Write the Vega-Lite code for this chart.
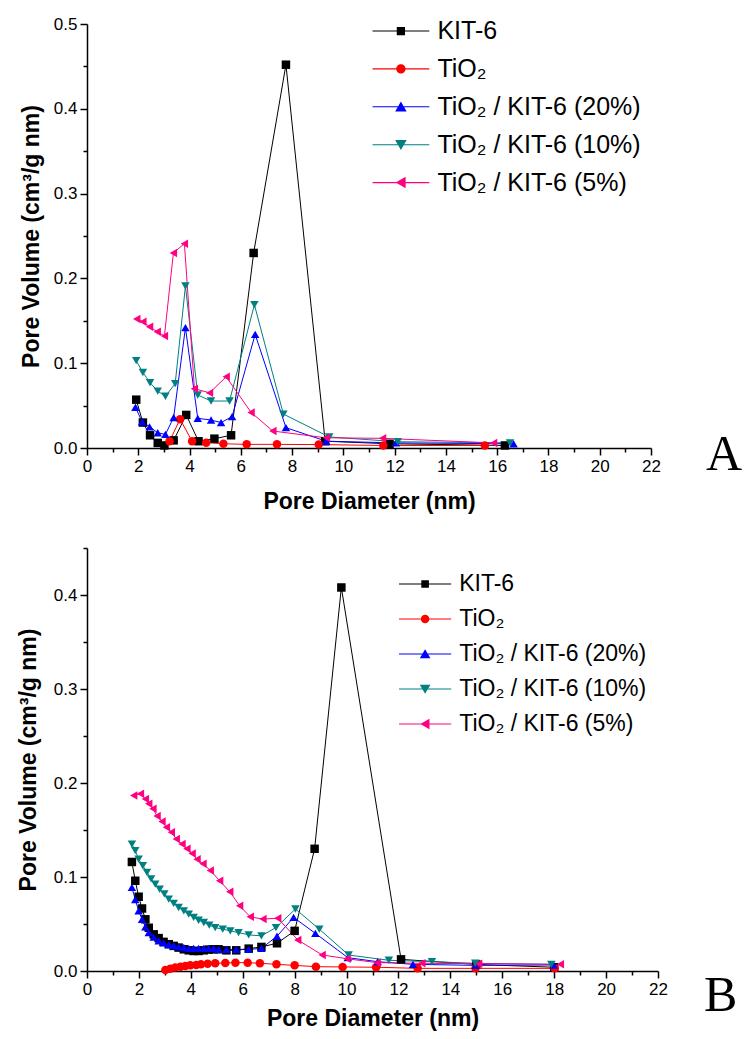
{
  "$schema": "https://vega.github.io/schema/vega-lite/v6.json",
  "background": "white",
  "padding": {"left": 17, "top": 15, "right": 0, "bottom": 5},
  "spacing": 26,
  "config": {
    "view": {"stroke": null},
    "font": "Liberation Sans",
    "axis": {
      "grid": false,
      "domainColor": "black",
      "domainWidth": 1.5,
      "tickColor": "black",
      "tickWidth": 1.5,
      "labelColor": "black",
      "labelFont": "Liberation Sans",
      "labelFontSize": 17,
      "labelPadding": 3,
      "labelOverlap": false,
      "labelFlush": false,
      "titleFont": "Liberation Sans",
      "titleFontSize": 23,
      "titleFontWeight": "bold",
      "titleColor": "black"
    },
    "legend": {
      "title": null,
      "orient": "none",
      "padding": 0,
      "labelFont": "Liberation Sans",
      "labelColor": "black",
      "labelLimit": 400,
      "symbolOpacity": 1,
      "symbolStrokeWidth": 1.5
    }
  },
  "datasets": {
    "a": [
      {"s": "KIT-6", "d": 1.92, "v": 0.057},
      {"s": "KIT-6", "d": 2.18, "v": 0.030},
      {"s": "KIT-6", "d": 2.46, "v": 0.015},
      {"s": "KIT-6", "d": 2.76, "v": 0.006},
      {"s": "KIT-6", "d": 3.02, "v": 0.003},
      {"s": "KIT-6", "d": 3.38, "v": 0.009},
      {"s": "KIT-6", "d": 3.87, "v": 0.039},
      {"s": "KIT-6", "d": 4.35, "v": 0.008},
      {"s": "KIT-6", "d": 4.97, "v": 0.011},
      {"s": "KIT-6", "d": 5.62, "v": 0.015},
      {"s": "KIT-6", "d": 6.50, "v": 0.230},
      {"s": "KIT-6", "d": 7.76, "v": 0.452},
      {"s": "KIT-6", "d": 9.29, "v": 0.008},
      {"s": "KIT-6", "d": 11.8, "v": 0.005},
      {"s": "KIT-6", "d": 16.3, "v": 0.003},
      {"s": "TiO₂", "d": 3.22, "v": 0.008},
      {"s": "TiO₂", "d": 3.63, "v": 0.034},
      {"s": "TiO₂", "d": 4.10, "v": 0.008},
      {"s": "TiO₂", "d": 4.65, "v": 0.0063},
      {"s": "TiO₂", "d": 5.32, "v": 0.005},
      {"s": "TiO₂", "d": 6.23, "v": 0.0043},
      {"s": "TiO₂", "d": 7.41, "v": 0.0043},
      {"s": "TiO₂", "d": 9.04, "v": 0.004},
      {"s": "TiO₂", "d": 11.56, "v": 0.003},
      {"s": "TiO₂", "d": 15.52, "v": 0.003},
      {"s": "TiO₂ / KIT-6 (20%)", "d": 1.89, "v": 0.048},
      {"s": "TiO₂ / KIT-6 (20%)", "d": 2.15, "v": 0.031},
      {"s": "TiO₂ / KIT-6 (20%)", "d": 2.44, "v": 0.025},
      {"s": "TiO₂ / KIT-6 (20%)", "d": 2.76, "v": 0.018},
      {"s": "TiO₂ / KIT-6 (20%)", "d": 3.06, "v": 0.016},
      {"s": "TiO₂ / KIT-6 (20%)", "d": 3.38, "v": 0.036},
      {"s": "TiO₂ / KIT-6 (20%)", "d": 3.84, "v": 0.142},
      {"s": "TiO₂ / KIT-6 (20%)", "d": 4.32, "v": 0.035},
      {"s": "TiO₂ / KIT-6 (20%)", "d": 4.84, "v": 0.033},
      {"s": "TiO₂ / KIT-6 (20%)", "d": 5.23, "v": 0.030},
      {"s": "TiO₂ / KIT-6 (20%)", "d": 5.66, "v": 0.037},
      {"s": "TiO₂ / KIT-6 (20%)", "d": 6.56, "v": 0.134},
      {"s": "TiO₂ / KIT-6 (20%)", "d": 7.76, "v": 0.024},
      {"s": "TiO₂ / KIT-6 (20%)", "d": 9.33, "v": 0.008},
      {"s": "TiO₂ / KIT-6 (20%)", "d": 12.05, "v": 0.006},
      {"s": "TiO₂ / KIT-6 (20%)", "d": 16.64, "v": 0.005},
      {"s": "TiO₂ / KIT-6 (10%)", "d": 1.92, "v": 0.103},
      {"s": "TiO₂ / KIT-6 (10%)", "d": 2.18, "v": 0.089},
      {"s": "TiO₂ / KIT-6 (10%)", "d": 2.46, "v": 0.077},
      {"s": "TiO₂ / KIT-6 (10%)", "d": 2.76, "v": 0.067},
      {"s": "TiO₂ / KIT-6 (10%)", "d": 3.06, "v": 0.061},
      {"s": "TiO₂ / KIT-6 (10%)", "d": 3.44, "v": 0.076},
      {"s": "TiO₂ / KIT-6 (10%)", "d": 3.84, "v": 0.191},
      {"s": "TiO₂ / KIT-6 (10%)", "d": 4.32, "v": 0.0625},
      {"s": "TiO₂ / KIT-6 (10%)", "d": 4.84, "v": 0.0554},
      {"s": "TiO₂ / KIT-6 (10%)", "d": 5.56, "v": 0.0554},
      {"s": "TiO₂ / KIT-6 (10%)", "d": 6.53, "v": 0.169},
      {"s": "TiO₂ / KIT-6 (10%)", "d": 7.66, "v": 0.040},
      {"s": "TiO₂ / KIT-6 (10%)", "d": 9.45, "v": 0.013},
      {"s": "TiO₂ / KIT-6 (10%)", "d": 12.12, "v": 0.0074},
      {"s": "TiO₂ / KIT-6 (10%)", "d": 16.5, "v": 0.006},
      {"s": "TiO₂ / KIT-6 (5%)", "d": 1.94, "v": 0.152},
      {"s": "TiO₂ / KIT-6 (5%)", "d": 2.18, "v": 0.149},
      {"s": "TiO₂ / KIT-6 (5%)", "d": 2.44, "v": 0.143},
      {"s": "TiO₂ / KIT-6 (5%)", "d": 2.74, "v": 0.137},
      {"s": "TiO₂ / KIT-6 (5%)", "d": 3.02, "v": 0.132},
      {"s": "TiO₂ / KIT-6 (5%)", "d": 3.37, "v": 0.230},
      {"s": "TiO₂ / KIT-6 (5%)", "d": 3.80, "v": 0.241},
      {"s": "TiO₂ / KIT-6 (5%)", "d": 4.19, "v": 0.070},
      {"s": "TiO₂ / KIT-6 (5%)", "d": 4.78, "v": 0.065},
      {"s": "TiO₂ / KIT-6 (5%)", "d": 5.43, "v": 0.084},
      {"s": "TiO₂ / KIT-6 (5%)", "d": 6.40, "v": 0.042},
      {"s": "TiO₂ / KIT-6 (5%)", "d": 7.25, "v": 0.020},
      {"s": "TiO₂ / KIT-6 (5%)", "d": 9.33, "v": 0.012},
      {"s": "TiO₂ / KIT-6 (5%)", "d": 11.53, "v": 0.0114},
      {"s": "TiO₂ / KIT-6 (5%)", "d": 15.86, "v": 0.006}
    ],
    "b": [
      {"s": "KIT-6", "d": 1.73, "v": 0.116},
      {"s": "KIT-6", "d": 1.86, "v": 0.096},
      {"s": "KIT-6", "d": 1.99, "v": 0.079},
      {"s": "KIT-6", "d": 2.12, "v": 0.0665},
      {"s": "KIT-6", "d": 2.25, "v": 0.055},
      {"s": "KIT-6", "d": 2.38, "v": 0.046},
      {"s": "KIT-6", "d": 2.57, "v": 0.039},
      {"s": "KIT-6", "d": 2.76, "v": 0.035},
      {"s": "KIT-6", "d": 2.95, "v": 0.031},
      {"s": "KIT-6", "d": 3.15, "v": 0.0285},
      {"s": "KIT-6", "d": 3.34, "v": 0.0267},
      {"s": "KIT-6", "d": 3.53, "v": 0.0249},
      {"s": "KIT-6", "d": 3.73, "v": 0.0231},
      {"s": "KIT-6", "d": 3.92, "v": 0.022},
      {"s": "KIT-6", "d": 4.11, "v": 0.0213},
      {"s": "KIT-6", "d": 4.30, "v": 0.0213},
      {"s": "KIT-6", "d": 4.50, "v": 0.022},
      {"s": "KIT-6", "d": 4.69, "v": 0.0228},
      {"s": "KIT-6", "d": 4.88, "v": 0.0231},
      {"s": "KIT-6", "d": 5.07, "v": 0.0231},
      {"s": "KIT-6", "d": 5.37, "v": 0.022},
      {"s": "KIT-6", "d": 5.75, "v": 0.022},
      {"s": "KIT-6", "d": 6.23, "v": 0.0238},
      {"s": "KIT-6", "d": 6.72, "v": 0.0256},
      {"s": "KIT-6", "d": 7.32, "v": 0.0295},
      {"s": "KIT-6", "d": 8.0, "v": 0.0427},
      {"s": "KIT-6", "d": 8.77, "v": 0.130},
      {"s": "KIT-6", "d": 9.80, "v": 0.408},
      {"s": "KIT-6", "d": 12.1, "v": 0.0124},
      {"s": "KIT-6", "d": 15.0, "v": 0.007},
      {"s": "KIT-6", "d": 18.0, "v": 0.004},
      {"s": "TiO₂", "d": 3.02, "v": 0.0011},
      {"s": "TiO₂", "d": 3.21, "v": 0.0025},
      {"s": "TiO₂", "d": 3.40, "v": 0.0036},
      {"s": "TiO₂", "d": 3.60, "v": 0.0046},
      {"s": "TiO₂", "d": 3.79, "v": 0.0053},
      {"s": "TiO₂", "d": 3.98, "v": 0.006},
      {"s": "TiO₂", "d": 4.21, "v": 0.0064},
      {"s": "TiO₂", "d": 4.39, "v": 0.0071},
      {"s": "TiO₂", "d": 4.65, "v": 0.0078},
      {"s": "TiO₂", "d": 4.94, "v": 0.0082},
      {"s": "TiO₂", "d": 5.33, "v": 0.0085},
      {"s": "TiO₂", "d": 5.72, "v": 0.0089},
      {"s": "TiO₂", "d": 6.19, "v": 0.0089},
      {"s": "TiO₂", "d": 6.66, "v": 0.0082},
      {"s": "TiO₂", "d": 7.30, "v": 0.0071},
      {"s": "TiO₂", "d": 8.00, "v": 0.006},
      {"s": "TiO₂", "d": 8.82, "v": 0.0046},
      {"s": "TiO₂", "d": 9.85, "v": 0.0043},
      {"s": "TiO₂", "d": 11.14, "v": 0.004},
      {"s": "TiO₂", "d": 12.74, "v": 0.0028},
      {"s": "TiO₂", "d": 14.97, "v": 0.0028},
      {"s": "TiO₂", "d": 18.02, "v": 0.0028},
      {"s": "TiO₂ / KIT-6 (20%)", "d": 1.73, "v": 0.089},
      {"s": "TiO₂ / KIT-6 (20%)", "d": 1.86, "v": 0.076},
      {"s": "TiO₂ / KIT-6 (20%)", "d": 1.99, "v": 0.064},
      {"s": "TiO₂ / KIT-6 (20%)", "d": 2.12, "v": 0.055},
      {"s": "TiO₂ / KIT-6 (20%)", "d": 2.25, "v": 0.047},
      {"s": "TiO₂ / KIT-6 (20%)", "d": 2.38, "v": 0.041},
      {"s": "TiO₂ / KIT-6 (20%)", "d": 2.57, "v": 0.036},
      {"s": "TiO₂ / KIT-6 (20%)", "d": 2.76, "v": 0.032},
      {"s": "TiO₂ / KIT-6 (20%)", "d": 2.95, "v": 0.030},
      {"s": "TiO₂ / KIT-6 (20%)", "d": 3.15, "v": 0.028},
      {"s": "TiO₂ / KIT-6 (20%)", "d": 3.34, "v": 0.027},
      {"s": "TiO₂ / KIT-6 (20%)", "d": 3.53, "v": 0.026},
      {"s": "TiO₂ / KIT-6 (20%)", "d": 3.73, "v": 0.025},
      {"s": "TiO₂ / KIT-6 (20%)", "d": 3.92, "v": 0.024},
      {"s": "TiO₂ / KIT-6 (20%)", "d": 4.11, "v": 0.024},
      {"s": "TiO₂ / KIT-6 (20%)", "d": 4.30, "v": 0.024},
      {"s": "TiO₂ / KIT-6 (20%)", "d": 4.50, "v": 0.024},
      {"s": "TiO₂ / KIT-6 (20%)", "d": 4.69, "v": 0.024},
      {"s": "TiO₂ / KIT-6 (20%)", "d": 4.88, "v": 0.024},
      {"s": "TiO₂ / KIT-6 (20%)", "d": 5.07, "v": 0.023},
      {"s": "TiO₂ / KIT-6 (20%)", "d": 5.37, "v": 0.023},
      {"s": "TiO₂ / KIT-6 (20%)", "d": 5.75, "v": 0.023},
      {"s": "TiO₂ / KIT-6 (20%)", "d": 6.23, "v": 0.023},
      {"s": "TiO₂ / KIT-6 (20%)", "d": 6.72, "v": 0.024},
      {"s": "TiO₂ / KIT-6 (20%)", "d": 7.32, "v": 0.037},
      {"s": "TiO₂ / KIT-6 (20%)", "d": 7.96, "v": 0.057},
      {"s": "TiO₂ / KIT-6 (20%)", "d": 8.80, "v": 0.040},
      {"s": "TiO₂ / KIT-6 (20%)", "d": 10.05, "v": 0.0142},
      {"s": "TiO₂ / KIT-6 (20%)", "d": 11.2, "v": 0.0099},
      {"s": "TiO₂ / KIT-6 (20%)", "d": 12.56, "v": 0.0071},
      {"s": "TiO₂ / KIT-6 (20%)", "d": 14.97, "v": 0.006},
      {"s": "TiO₂ / KIT-6 (20%)", "d": 17.98, "v": 0.0064},
      {"s": "TiO₂ / KIT-6 (10%)", "d": 1.73, "v": 0.135},
      {"s": "TiO₂ / KIT-6 (10%)", "d": 1.86, "v": 0.128},
      {"s": "TiO₂ / KIT-6 (10%)", "d": 1.99, "v": 0.119},
      {"s": "TiO₂ / KIT-6 (10%)", "d": 2.15, "v": 0.112},
      {"s": "TiO₂ / KIT-6 (10%)", "d": 2.31, "v": 0.105},
      {"s": "TiO₂ / KIT-6 (10%)", "d": 2.47, "v": 0.098},
      {"s": "TiO₂ / KIT-6 (10%)", "d": 2.63, "v": 0.0925},
      {"s": "TiO₂ / KIT-6 (10%)", "d": 2.80, "v": 0.087},
      {"s": "TiO₂ / KIT-6 (10%)", "d": 2.98, "v": 0.082},
      {"s": "TiO₂ / KIT-6 (10%)", "d": 3.15, "v": 0.0765},
      {"s": "TiO₂ / KIT-6 (10%)", "d": 3.34, "v": 0.072},
      {"s": "TiO₂ / KIT-6 (10%)", "d": 3.53, "v": 0.0676},
      {"s": "TiO₂ / KIT-6 (10%)", "d": 3.73, "v": 0.064},
      {"s": "TiO₂ / KIT-6 (10%)", "d": 3.92, "v": 0.0605},
      {"s": "TiO₂ / KIT-6 (10%)", "d": 4.11, "v": 0.057},
      {"s": "TiO₂ / KIT-6 (10%)", "d": 4.30, "v": 0.054},
      {"s": "TiO₂ / KIT-6 (10%)", "d": 4.50, "v": 0.0516},
      {"s": "TiO₂ / KIT-6 (10%)", "d": 4.71, "v": 0.0488},
      {"s": "TiO₂ / KIT-6 (10%)", "d": 4.94, "v": 0.0462},
      {"s": "TiO₂ / KIT-6 (10%)", "d": 5.23, "v": 0.0445},
      {"s": "TiO₂ / KIT-6 (10%)", "d": 5.52, "v": 0.0427},
      {"s": "TiO₂ / KIT-6 (10%)", "d": 5.84, "v": 0.0409},
      {"s": "TiO₂ / KIT-6 (10%)", "d": 6.23, "v": 0.0384},
      {"s": "TiO₂ / KIT-6 (10%)", "d": 6.72, "v": 0.0374},
      {"s": "TiO₂ / KIT-6 (10%)", "d": 7.28, "v": 0.0462},
      {"s": "TiO₂ / KIT-6 (10%)", "d": 8.03, "v": 0.066},
      {"s": "TiO₂ / KIT-6 (10%)", "d": 8.95, "v": 0.0445},
      {"s": "TiO₂ / KIT-6 (10%)", "d": 10.08, "v": 0.017},
      {"s": "TiO₂ / KIT-6 (10%)", "d": 11.63, "v": 0.0114},
      {"s": "TiO₂ / KIT-6 (10%)", "d": 13.29, "v": 0.0099},
      {"s": "TiO₂ / KIT-6 (10%)", "d": 14.96, "v": 0.0082},
      {"s": "TiO₂ / KIT-6 (10%)", "d": 17.89, "v": 0.0071},
      {"s": "TiO₂ / KIT-6 (5%)", "d": 1.80, "v": 0.1868},
      {"s": "TiO₂ / KIT-6 (5%)", "d": 2.06, "v": 0.1886},
      {"s": "TiO₂ / KIT-6 (5%)", "d": 2.25, "v": 0.183},
      {"s": "TiO₂ / KIT-6 (5%)", "d": 2.38, "v": 0.178},
      {"s": "TiO₂ / KIT-6 (5%)", "d": 2.54, "v": 0.1725},
      {"s": "TiO₂ / KIT-6 (5%)", "d": 2.70, "v": 0.165},
      {"s": "TiO₂ / KIT-6 (5%)", "d": 2.89, "v": 0.159},
      {"s": "TiO₂ / KIT-6 (5%)", "d": 3.06, "v": 0.153},
      {"s": "TiO₂ / KIT-6 (5%)", "d": 3.25, "v": 0.1476},
      {"s": "TiO₂ / KIT-6 (5%)", "d": 3.44, "v": 0.1405},
      {"s": "TiO₂ / KIT-6 (5%)", "d": 3.66, "v": 0.135},
      {"s": "TiO₂ / KIT-6 (5%)", "d": 3.85, "v": 0.130},
      {"s": "TiO₂ / KIT-6 (5%)", "d": 4.05, "v": 0.125},
      {"s": "TiO₂ / KIT-6 (5%)", "d": 4.24, "v": 0.119},
      {"s": "TiO₂ / KIT-6 (5%)", "d": 4.47, "v": 0.114},
      {"s": "TiO₂ / KIT-6 (5%)", "d": 4.75, "v": 0.107},
      {"s": "TiO₂ / KIT-6 (5%)", "d": 5.11, "v": 0.096},
      {"s": "TiO₂ / KIT-6 (5%)", "d": 5.50, "v": 0.0843},
      {"s": "TiO₂ / KIT-6 (5%)", "d": 5.88, "v": 0.0694},
      {"s": "TiO₂ / KIT-6 (5%)", "d": 6.29, "v": 0.0576},
      {"s": "TiO₂ / KIT-6 (5%)", "d": 6.78, "v": 0.0552},
      {"s": "TiO₂ / KIT-6 (5%)", "d": 7.35, "v": 0.0562},
      {"s": "TiO₂ / KIT-6 (5%)", "d": 8.12, "v": 0.0331},
      {"s": "TiO₂ / KIT-6 (5%)", "d": 9.06, "v": 0.0171},
      {"s": "TiO₂ / KIT-6 (5%)", "d": 10.02, "v": 0.013},
      {"s": "TiO₂ / KIT-6 (5%)", "d": 11.18, "v": 0.0089},
      {"s": "TiO₂ / KIT-6 (5%)", "d": 12.9, "v": 0.0082},
      {"s": "TiO₂ / KIT-6 (5%)", "d": 15.09, "v": 0.0078},
      {"s": "TiO₂ / KIT-6 (5%)", "d": 18.24, "v": 0.0071}
    ]
  },
  "vconcat": [
    {
      "width": 564,
      "height": 424,
      "data": {"name": "a"},
      "title": {"text": "A", "orient": "bottom", "anchor": "end", "frame": "group", "align": "left", "baseline": "alphabetic",
        "font": "Liberation Serif", "fontSize": 50, "fontWeight": "normal", "color": "black", "dx": 55, "dy": -43, "offset": 0},
      "encoding": {
        "x": {
          "field": "d", "type": "quantitative",
          "scale": {"domain": [0, 22], "nice": false},
          "axis": {
            "title": "Pore Diameter (nm)",
            "values": [0,1,2,3,4,5,6,7,8,9,10,11,12,13,14,15,16,17,18,19,20,21,22],
            "labelExpr": "datum.value % 2 === 0 ? datum.label : ''",
            "tickSize": {"condition": {"test": "datum.value % 2 === 0", "value": 7}, "value": 4},
            "titlePadding": 16
          }
        },
        "y": {
          "field": "v", "type": "quantitative",
          "scale": {"domain": [0, 0.5], "nice": false},
          "axis": {
            "title": "Pore Volume (cm³/g nm)",
            "values": [0,0.05,0.1,0.15,0.2,0.25,0.3,0.35,0.4,0.45,0.5],
            "labelExpr": "round(datum.value*20) % 2 === 0 ? format(datum.value, '.1f') : ''",
            "tickSize": {"condition": {"test": "round(datum.value*20) % 2 === 0", "value": 7}, "value": 4},
            "titlePadding": 10
          }
        }
      },
      "layer": [
        {
          "mark": {"type": "line", "strokeWidth": 1},
          "encoding": {
            "color": {"field": "s", "type": "nominal", "legend": null,
              "scale": {"domain": ["KIT-6", "TiO₂", "TiO₂ / KIT-6 (20%)", "TiO₂ / KIT-6 (10%)", "TiO₂ / KIT-6 (5%)"],
                        "range": ["#000000", "#FF0000", "#0000FF", "#008080", "#FF0080"]}}
          }
        },
        {
          "mark": {"type": "point", "filled": true, "opacity": 1},
          "encoding": {
            "color": {"field": "s", "type": "nominal", "legend": null,
              "scale": {"domain": ["KIT-6", "TiO₂", "TiO₂ / KIT-6 (20%)", "TiO₂ / KIT-6 (10%)", "TiO₂ / KIT-6 (5%)"],
                        "range": ["#000000", "#FF0000", "#0000FF", "#008080", "#FF0080"]}},
            "shape": {"field": "s", "type": "nominal", "legend": null,
              "scale": {"domain": ["KIT-6", "TiO₂", "TiO₂ / KIT-6 (20%)", "TiO₂ / KIT-6 (10%)", "TiO₂ / KIT-6 (5%)"],
                        "range": ["square", "circle", "triangle-up", "triangle-down", "triangle-left"]}},
            "size": {"field": "s", "type": "nominal", "legend": null,
              "scale": {"domain": ["KIT-6", "TiO₂", "TiO₂ / KIT-6 (20%)", "TiO₂ / KIT-6 (10%)", "TiO₂ / KIT-6 (5%)"],
                        "range": [72, 72, 130, 130, 130]}}
          }
        },
        {
          "mark": {"type": "point", "filled": true, "opacity": 0},
          "encoding": {
            "color": {"field": "s", "type": "nominal",
              "scale": {"domain": ["KIT-6", "TiO₂", "TiO₂ / KIT-6 (20%)", "TiO₂ / KIT-6 (10%)", "TiO₂ / KIT-6 (5%)"],
                        "range": ["#000000", "#FF0000", "#0000FF", "#008080", "#FF0080"]},
              "legend": {"legendX": 300.4, "legendY": -6.5, "labelFontSize": 25,
                "symbolSize": 625, "symbolOpacity": 1, "rowPadding": 10.9, "labelOffset": 23}},
            "shape": {"field": "s", "type": "nominal",
              "scale": {"domain": ["KIT-6", "TiO₂", "TiO₂ / KIT-6 (20%)", "TiO₂ / KIT-6 (10%)", "TiO₂ / KIT-6 (5%)"],
                        "range": [
                          "M-2.27,-0.045H2.27V0.045H-2.27Z M-0.33,-0.33H0.33V0.33H-0.33Z",
                          "M-2.27,-0.045H2.27V0.045H-2.27Z M0.37,0A0.37,0.37,0,1,1,-0.37,0A0.37,0.37,0,1,1,0.37,0Z",
                          "M-2.27,-0.045H2.27V0.045H-2.27Z M0,-0.42L0.46,0.38L-0.46,0.38Z",
                          "M-2.27,-0.045H2.27V0.045H-2.27Z M-0.46,-0.38L0.46,-0.38L0,0.42Z",
                          "M-2.27,-0.045H2.27V0.045H-2.27Z M-0.42,0L0.38,-0.46L0.38,0.46Z"
                        ]},
              "legend": {"legendX": 300.4, "legendY": -6.5, "labelFontSize": 25,
                "symbolSize": 625, "symbolOpacity": 1, "rowPadding": 10.9, "labelOffset": 23}}
          }
        }
      ],
      "resolve": {"scale": {"color": "independent", "shape": "independent", "size": "independent"}}
    },
    {
      "width": 571,
      "height": 423,
      "data": {"name": "b"},
      "title": {"text": "B", "orient": "bottom", "anchor": "end", "frame": "group", "align": "left", "baseline": "alphabetic",
        "font": "Liberation Serif", "fontSize": 50, "fontWeight": "normal", "color": "black", "dx": 46, "dy": -19, "offset": 0},
      "encoding": {
        "x": {
          "field": "d", "type": "quantitative",
          "scale": {"domain": [0, 22], "nice": false},
          "axis": {
            "title": "Pore Diameter (nm)",
            "values": [0,1,2,3,4,5,6,7,8,9,10,11,12,13,14,15,16,17,18,19,20,21,22],
            "labelExpr": "datum.value % 2 === 0 ? datum.label : ''",
            "tickSize": {"condition": {"test": "datum.value % 2 === 0", "value": 7}, "value": 4},
            "titlePadding": 10
          }
        },
        "y": {
          "field": "v", "type": "quantitative",
          "scale": {"domain": [0, 0.45], "nice": false},
          "axis": {
            "title": "Pore Volume (cm³/g nm)",
            "values": [0,0.05,0.1,0.15,0.2,0.25,0.3,0.35,0.4,0.45],
            "labelExpr": "round(datum.value*20) % 2 === 0 ? format(datum.value, '.1f') : ''",
            "tickSize": {"condition": {"test": "round(datum.value*20) % 2 === 0", "value": 7}, "value": 4},
            "titlePadding": 12.5
          }
        }
      },
      "layer": [
        {
          "mark": {"type": "line", "strokeWidth": 1},
          "encoding": {
            "color": {"field": "s", "type": "nominal", "legend": null,
              "scale": {"domain": ["KIT-6", "TiO₂", "TiO₂ / KIT-6 (20%)", "TiO₂ / KIT-6 (10%)", "TiO₂ / KIT-6 (5%)"],
                        "range": ["#000000", "#FF0000", "#0000FF", "#008080", "#FF0080"]}}
          }
        },
        {
          "mark": {"type": "point", "filled": true, "opacity": 1},
          "encoding": {
            "color": {"field": "s", "type": "nominal", "legend": null,
              "scale": {"domain": ["KIT-6", "TiO₂", "TiO₂ / KIT-6 (20%)", "TiO₂ / KIT-6 (10%)", "TiO₂ / KIT-6 (5%)"],
                        "range": ["#000000", "#FF0000", "#0000FF", "#008080", "#FF0080"]}},
            "shape": {"field": "s", "type": "nominal", "legend": null,
              "scale": {"domain": ["KIT-6", "TiO₂", "TiO₂ / KIT-6 (20%)", "TiO₂ / KIT-6 (10%)", "TiO₂ / KIT-6 (5%)"],
                        "range": ["square", "circle", "triangle-up", "triangle-down", "triangle-left"]}},
            "size": {"field": "s", "type": "nominal", "legend": null,
              "scale": {"domain": ["KIT-6", "TiO₂", "TiO₂ / KIT-6 (20%)", "TiO₂ / KIT-6 (10%)", "TiO₂ / KIT-6 (5%)"],
                        "range": [72, 72, 130, 130, 130]}}
          }
        },
        {
          "mark": {"type": "point", "filled": true, "opacity": 0},
          "encoding": {
            "color": {"field": "s", "type": "nominal",
              "scale": {"domain": ["KIT-6", "TiO₂", "TiO₂ / KIT-6 (20%)", "TiO₂ / KIT-6 (10%)", "TiO₂ / KIT-6 (5%)"],
                        "range": ["#000000", "#FF0000", "#0000FF", "#008080", "#FF0080"]},
              "legend": {"legendX": 325.6, "legendY": 23.5, "labelFontSize": 23,
                "symbolSize": 529, "symbolOpacity": 1, "rowPadding": 10, "labelOffset": 21.6}},
            "shape": {"field": "s", "type": "nominal",
              "scale": {"domain": ["KIT-6", "TiO₂", "TiO₂ / KIT-6 (20%)", "TiO₂ / KIT-6 (10%)", "TiO₂ / KIT-6 (5%)"],
                        "range": [
                          "M-2.27,-0.045H2.27V0.045H-2.27Z M-0.33,-0.33H0.33V0.33H-0.33Z",
                          "M-2.27,-0.045H2.27V0.045H-2.27Z M0.37,0A0.37,0.37,0,1,1,-0.37,0A0.37,0.37,0,1,1,0.37,0Z",
                          "M-2.27,-0.045H2.27V0.045H-2.27Z M0,-0.42L0.46,0.38L-0.46,0.38Z",
                          "M-2.27,-0.045H2.27V0.045H-2.27Z M-0.46,-0.38L0.46,-0.38L0,0.42Z",
                          "M-2.27,-0.045H2.27V0.045H-2.27Z M-0.42,0L0.38,-0.46L0.38,0.46Z"
                        ]},
              "legend": {"legendX": 325.6, "legendY": 23.5, "labelFontSize": 23,
                "symbolSize": 529, "symbolOpacity": 1, "rowPadding": 10, "labelOffset": 21.6}}
          }
        }
      ],
      "resolve": {"scale": {"color": "independent", "shape": "independent", "size": "independent"}}
    }
  ]
}
